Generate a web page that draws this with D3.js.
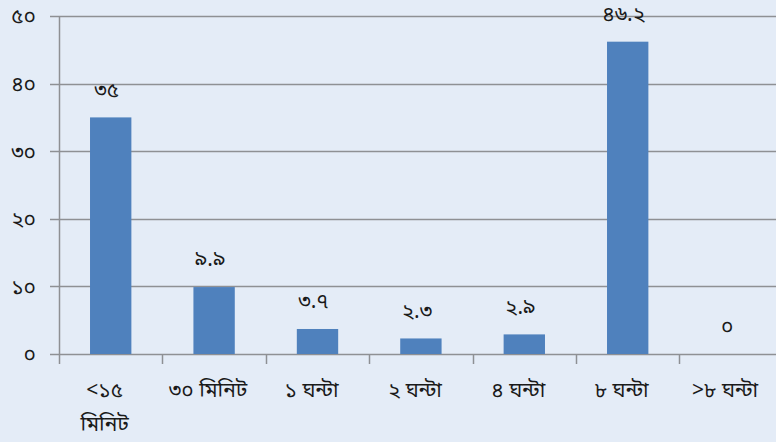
<!DOCTYPE html>
<html>
<head>
<meta charset="utf-8">
<script src="https://cdn.jsdelivr.net/npm/d3@7"></script>
<style>
  html, body { margin: 0; padding: 0; background: #E4ECF7; }
  svg { display: block; }
  text { font-family: "Noto Sans Bengali", "Noto Sans", "DejaVu Sans", sans-serif; fill: #1a1a1a; }
</style>
</head>
<body>
<svg id="chart" width="776" height="442"></svg>
<script>
// Time categories (Bengali) and percentages
const categories = ["<১৫\nমিনিট", "৩০ মিনিট", "১ ঘন্টা", "২ ঘন্টা", "৪ ঘন্টা", "৮ ঘন্টা", ">৮ ঘন্টা"];
const values = [35, 9.9, 3.7, 2.3, 2.9, 46.2, 0];
const valueLabels = ["৩৫", "৯.৯", "৩.৭", "২.৩", "২.৯", "৪৬.২", "০"];
const yTicks = [0, 10, 20, 30, 40, 50];
const yTickLabels = ["০", "১০", "২০", "৩০", "৪০", "৫০"];

const W = 776, H = 442;
const margin = { left: 59, top: 16, bottom: 88 };
const bandW = 103.4;
const plotRight = margin.left + bandW * categories.length;
const plotBottom = H - margin.bottom;
const fs = 21;

const svg = d3.select("#chart");
svg.append("rect").attr("width", W).attr("height", H).attr("fill", "#E4ECF7");

const x = d3.scaleBand()
  .domain(d3.range(categories.length))
  .range([margin.left, plotRight])
  .paddingInner(0.6).paddingOuter(0.3);

const y = d3.scaleLinear().domain([0, 50]).range([plotBottom, margin.top]);

// horizontal gridlines with short ticks to the left of the axis
svg.append("g").selectAll("line")
  .data(yTicks)
  .join("line")
  .attr("x1", margin.left - 9)
  .attr("x2", W)
  .attr("y1", d => Math.round(y(d)) + 0.5)
  .attr("y2", d => Math.round(y(d)) + 0.5)
  .attr("stroke", "#8E9094")
  .attr("stroke-width", 1.5);

// y tick labels
svg.append("g").selectAll("text")
  .data(yTicks)
  .join("text")
  .attr("x", 36)
  .attr("y", d => y(d))
  .attr("dy", "0.35em")
  .attr("text-anchor", "end")
  .attr("font-size", fs)
  .text((d, i) => yTickLabels[i]);

// bars
svg.append("g").selectAll("rect")
  .data(values)
  .join("rect")
  .attr("x", (d, i) => x(i))
  .attr("width", x.bandwidth())
  .attr("y", d => y(d))
  .attr("height", d => plotBottom - y(d))
  .attr("fill", "#4F81BD");

// value labels above bars
svg.append("g").selectAll("text")
  .data(values)
  .join("text")
  .attr("x", (d, i) => x(i) + x.bandwidth() / 2 - 4)
  .attr("y", d => y(d) - 28)
  .attr("dy", "0.35em")
  .attr("text-anchor", "middle")
  .attr("font-size", fs)
  .text((d, i) => valueLabels[i]);

// y axis line
svg.append("line")
  .attr("x1", margin.left + 0.5).attr("x2", margin.left + 0.5)
  .attr("y1", margin.top).attr("y2", plotBottom + 10)
  .attr("stroke", "#8E9094").attr("stroke-width", 1.5);

// x axis tick marks at band boundaries
svg.append("g").selectAll("line")
  .data(d3.range(1, categories.length + 1))
  .join("line")
  .attr("x1", i => Math.round(margin.left + bandW * i) + 0.5)
  .attr("x2", i => Math.round(margin.left + bandW * i) + 0.5)
  .attr("y1", plotBottom)
  .attr("y2", plotBottom + 10)
  .attr("stroke", "#8E9094").attr("stroke-width", 1.5);

// category labels
const catG = svg.append("g");
categories.forEach((c, i) => {
  const cx = x(i) + x.bandwidth() / 2 - 6;
  const t = catG.append("text")
    .attr("x", cx)
    .attr("y", plotBottom + 36)
    .attr("text-anchor", "middle")
    .attr("font-size", fs);
  c.split("\n").forEach((line, k) => {
    t.append("tspan")
      .attr("x", cx)
      .attr("dy", k === 0 ? "0.35em" : "1.6em")
      .text(line);
  });
});
</script>
</body>
</html>
